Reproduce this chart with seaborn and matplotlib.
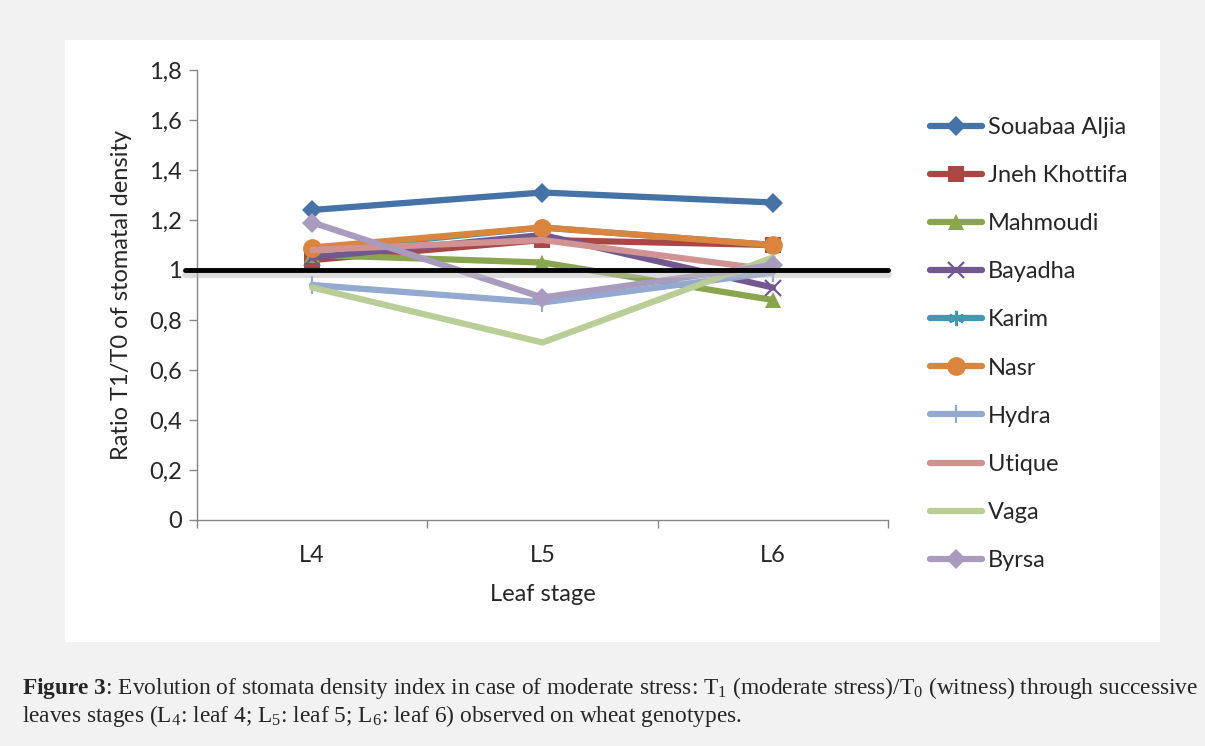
import matplotlib
matplotlib.use("Agg")
import matplotlib.pyplot as plt
import seaborn as sns
import pandas as pd
from matplotlib.patches import Rectangle

sns.set_theme(style="white")
plt.rcParams['font.family'] = ['Lato', 'DejaVu Sans']
plt.rcParams['mathtext.fontset'] = 'custom'
plt.rcParams['mathtext.rm'] = 'Liberation Serif'
plt.rcParams['mathtext.it'] = 'Liberation Serif:italic'
plt.rcParams['mathtext.bf'] = 'Liberation Serif:bold'

# ---- data ----
stages = ["L4", "L5", "L6"]
genotypes = ["Souabaa Aljia", "Jneh Khottifa", "Mahmoudi", "Bayadha", "Karim",
             "Nasr", "Hydra", "Utique", "Vaga", "Byrsa"]
souabaa = [1.24, 1.31, 1.27]
jneh = [1.04, 1.12, 1.10]
mahmoudi = [1.06, 1.03, 0.88]
bayadha = [1.05, 1.14, 0.93]
karim = [1.08, 1.17, 1.10]
nasr = [1.09, 1.17, 1.10]
hydra = [0.94, 0.87, 0.99]
utique = [1.08, 1.12, 1.00]
vaga = [0.93, 0.71, 1.05]
byrsa = [1.19, 0.89, 1.02]
series = [souabaa, jneh, mahmoudi, bayadha, karim, nasr, hydra, utique, vaga, byrsa]
yticks = [0, 0.2, 0.4, 0.6, 0.8, 1.0, 1.2, 1.4, 1.6, 1.8]
ytick_labels = ["0", "0,2", "0,4", "0,6", "0,8", "1", "1,2", "1,4", "1,6", "1,8"]

colors = ["#4572A7", "#AA4643", "#89A54E", "#71588F", "#4198AF",
          "#DB843D", "#93A9CF", "#D19392", "#B9CD96", "#A99BBD"]
markers = ["D", "s", "^", "x", (6, 2, 0), "o", "|", None, None, "D"]
msizes = [10, 11, 11, 11, 11, 13.5, 13, 0, 0, 10]

FS = 17

df = pd.DataFrame({
    "stage": stages * len(genotypes),
    "genotype": [g for g in genotypes for _ in stages],
    "ratio": [v for s in series for v in s],
})

fig = plt.figure(figsize=(12.05, 7.46), dpi=100)
fig.patch.set_facecolor("#f2f2f2")
fig.patches.append(Rectangle((65 / 1205, 1 - 642 / 746), (1160 - 65) / 1205, (642 - 40) / 746,
                             transform=fig.transFigure, facecolor="white", edgecolor="none", zorder=-10))

ax = fig.add_axes([197 / 1205, 1 - 520 / 746, (888 - 197) / 1205, (520 - 70) / 746])
ax.set_facecolor("white")

for g, c, m, ms in zip(genotypes, colors, markers, msizes):
    sub = df[df["genotype"] == g]
    if m is None:
        kw = {}
    else:
        thin = m in ("x", "|") or isinstance(m, tuple)
        kw = dict(marker=m, markersize=ms, markeredgewidth=1.6 if thin else 0,
                  markeredgecolor=c, markerfacecolor=c)
    sns.lineplot(data=sub, x="stage", y="ratio", ax=ax, color=c, linewidth=4.5,
                 label=g, sort=False, **kw)

# reference line at 1 with soft shadow
ax.plot([-0.55, 2.5], [0.985, 0.985], color="#bbbbbb", lw=5, alpha=0.5, clip_on=False, zorder=9)
ax.plot([-0.55, 2.5], [1.0, 1.0], color="black", lw=3.5, clip_on=False, zorder=10)

ax.set_xlim(-0.5, 2.5)
ax.set_ylim(0, 1.8)
ax.set_yticks(yticks)
ax.set_yticklabels(ytick_labels)
ax.set_xticks([-0.5, 0.5, 1.5, 2.5])
ax.set_xticklabels([])
ax.set_xticks([0, 1, 2], minor=True)
ax.set_xticklabels(stages, minor=True)
ax.tick_params(axis="x", which="major", direction="out", length=6, color="#868686", width=1, bottom=True)
ax.tick_params(axis="x", which="minor", length=0, pad=18, labelsize=FS)
ax.tick_params(axis="y", direction="out", length=6, color="#868686", width=1, labelsize=FS, pad=5, left=True)
for side in ["top", "right"]:
    ax.spines[side].set_visible(False)
for side in ["left", "bottom"]:
    ax.spines[side].set_color("#868686")
    ax.spines[side].set_linewidth(1)

ax.set_xlabel("Leaf stage", fontsize=FS, labelpad=13)
ax.set_ylabel("Ratio T1/T0 of stomatal density", fontsize=FS, labelpad=12)

leg = ax.legend(loc="upper left", bbox_to_anchor=(918 / 1205, 1 - 105 / 746),
                bbox_transform=fig.transFigure, frameon=False, fontsize=FS,
                handlelength=2.2, labelspacing=1.15, handletextpad=0.25, borderpad=0)

fig.text(22 / 1205, 1 - 688 / 746,
         r"$\mathbf{Figure\ 3}$: Evolution of stomata density index in case of moderate stress: "
         r"T$_1$ (moderate stress)/T$_0$ (witness) through successive",
         fontsize=16.8, family="Liberation Serif", va="center")
fig.text(22 / 1205, 1 - 716 / 746,
         r"leaves stages (L$_4$: leaf 4; L$_5$: leaf 5; L$_6$: leaf 6) observed on wheat genotypes.",
         fontsize=16.8, family="Liberation Serif", va="center")

fig.savefig("out.png", dpi=100, facecolor=fig.get_facecolor())
